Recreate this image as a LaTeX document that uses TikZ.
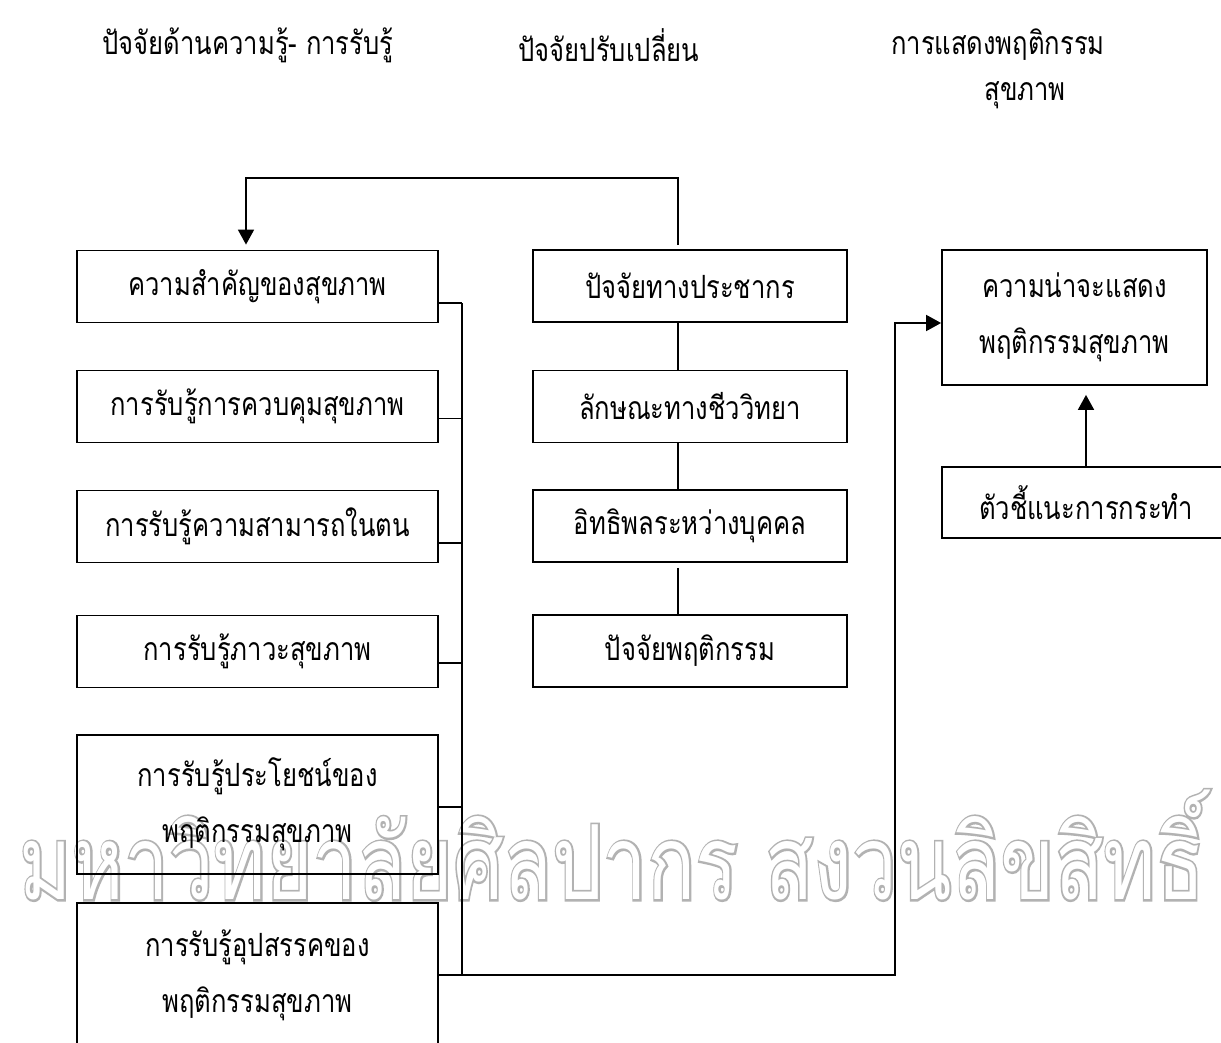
\documentclass[tikz,border=0pt]{standalone}
\usepackage{fontspec}
\usepackage{graphicx}
\setmainfont[Script=Thai,FakeStretch=0.8]{Loma}
\newfontfamily\wmfont[Script=Thai]{Loma}
\newfontfamily\wmfontb[Script=Thai,FakeBold=4]{Loma}
\usetikzlibrary{arrows.meta}
\newcommand{\boxfont}{\fontsize{32}{56}\selectfont}
\newcommand{\wmtext}{มหาวิทยาลัยศิลปากร สงวนลิขสิทธิ์}
\begin{document}
\begin{tikzpicture}[x=1pt,y=-1pt,
  box/.style={draw, line width=1.8pt, inner sep=0pt, align=center, font=\boxfont},
  lbox/.style={box, minimum width=361pt, minimum height=72pt},
  mbox/.style={box, minimum width=314pt, minimum height=72pt},
  head/.style={inner sep=0pt, font=\boxfont},
  wmark/.style={inner sep=0pt},
  ln/.style={line width=1.8pt},
  arr/.style={ln, -{Triangle[length=15pt,width=16pt]}}]
\useasboundingbox (0,0) rectangle (1221,1043);
\fill[white] (0,0) rectangle (1221,1043);

% watermark (outlined letters: grey emboldened layer under a white layer)
\node[wmark, text=black!30] (wmA) at (612,845)
  {\scalebox{1}[1.3]{\resizebox{1185pt}{!}{\wmfontb\fontsize{80}{80}\selectfont\wmtext}}};
\node[wmark, text=white] (wmB) at (wmA.center)
  {\scalebox{1}[1.3]{\resizebox{1185pt}{!}{\wmfont\fontsize{80}{80}\selectfont\wmtext}}};

% headers
\node[head] (h1) at (248,45) {ปัจจัยด้านความรู้- การรับรู้};
\node[head] (h2) at (609,45) {ปัจจัยปรับเปลี่ยน};
\node[head] (h3) at (998,45) {การแสดงพฤติกรรม};
\node[head] (h4) at (1025,95) {สุขภาพ};

% left column
\node[lbox] (L1) at (257.5,286.5) {ความสำคัญของสุขภาพ};
\node[lbox] (L2) at (257.5,406.5) {การรับรู้การควบคุมสุขภาพ};
\node[lbox] (L3) at (257.5,526.5) {การรับรู้ความสามารถในตน};
\node[lbox] (L4) at (257.5,651.5) {การรับรู้ภาวะสุขภาพ};
\node[lbox, minimum height=139pt] (L5) at (257.5,804.5) {การรับรู้ประโยชน์ของ\\พฤติกรรมสุขภาพ};
\node[lbox, minimum height=144pt] (L6) at (257.5,975) {การรับรู้อุปสรรคของ\\พฤติกรรมสุขภาพ};

% middle column
\node[mbox] (M1) at (690,286) {ปัจจัยทางประชากร};
\node[mbox] (M2) at (690,406.5) {ลักษณะทางชีววิทยา};
\node[mbox] (M3) at (690,526) {อิทธิพลระหว่างบุคคล};
\node[mbox] (M4) at (690,651) {ปัจจัยพฤติกรรม};

% right column
\node[box, minimum width=265pt, minimum height=135pt] (R1) at (1074.5,317.5) {ความน่าจะแสดง\\พฤติกรรมสุขภาพ};
\node[box, minimum width=288pt, minimum height=71pt] (R2) at (1086,502.5) {ตัวชี้แนะการกระทำ};

% connectors
\coordinate (topR) at (678,178);
\coordinate (topL) at (246,178);
\draw[arr, shorten >=5pt] ([xshift=-12pt,yshift=4pt]M1.north) -- (topR) -- (topL) -- (L1.north -| topL);
\draw[ln] ([xshift=-12pt]M1.south) -- ([xshift=-12pt]M2.north);
\draw[ln] ([xshift=-12pt]M2.south) -- ([xshift=-12pt]M3.north);
\draw[ln] ([xshift=-12pt,yshift=-5pt]M3.south) -- ([xshift=-12pt]M4.north);

\coordinate (busT) at (462,303);
\coordinate (busB) at (462,975);
\coordinate (busR) at (895,975);
\draw[ln] (busT) -- (busB);
\draw[ln] (L1.east |- busT) -- (busT);
\draw[ln] ([yshift=-12pt]L2.east) -- ++(24,0);
\draw[ln] ([yshift=-16.5pt]L3.east) -- ++(24,0);
\draw[ln] ([yshift=-11.5pt]L4.east) -- ++(24,0);
\draw[ln] ([yshift=-2.5pt]L5.east) -- ++(24,0);
\draw[ln] (L6.east) -- (busB);
\draw[arr] (busB) -- (busR) -- ([yshift=-5.5pt]R1.west -| busR) -- ([yshift=-5.5pt]R1.west);
\draw[arr, shorten >=9pt] (R2.north) -- (R1.south -| R2.north);
\end{tikzpicture}
\end{document}
